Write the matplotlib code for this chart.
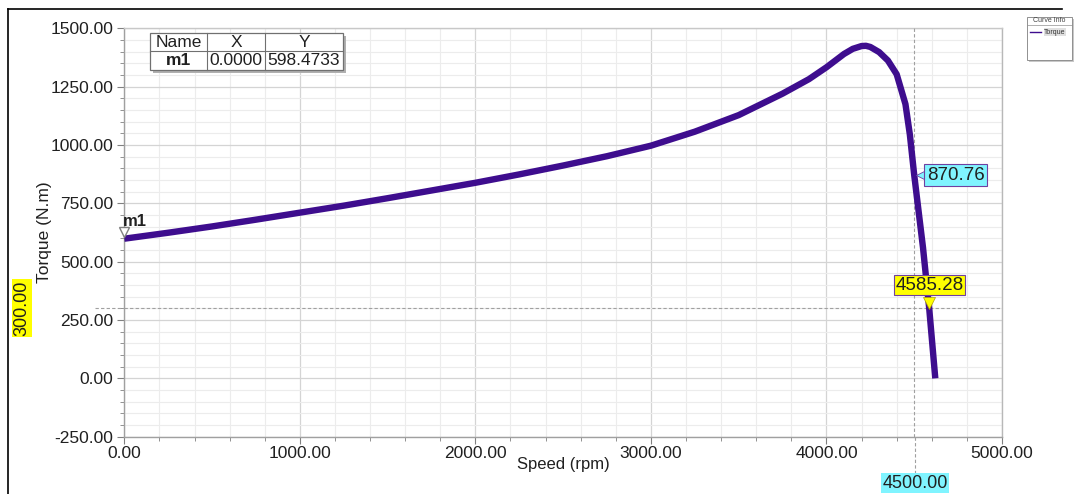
import matplotlib
matplotlib.use("Agg")
import matplotlib.pyplot as plt
from matplotlib.patches import Rectangle
from matplotlib.lines import Line2D
import numpy as np

plt.rcParams['font.family'] = ['Liberation Sans', 'DejaVu Sans']

# Torque curve
speed = [0, 250, 500, 750, 1000, 1250, 1500, 1750, 2000, 2250, 2500, 2750,
         3000, 3250, 3500, 3750, 3900, 4000, 4100, 4150, 4200, 4225, 4250,
         4300, 4350, 4400, 4450, 4475, 4500, 4550, 4585.28, 4620]
torque = [598.47, 624, 651, 680, 710, 740, 772, 805, 838, 874, 912, 952,
          997, 1057, 1128, 1220, 1282, 1333, 1390, 1412, 1424, 1425, 1420,
          1398, 1362, 1303, 1175, 1045, 870.76, 560, 300, 0]

xticks = [0, 1000, 2000, 3000, 4000, 5000]
yticks = [-250, 0, 250, 500, 750, 1000, 1250, 1500]

table_cols = ["Name", "X", "Y"]
table_row = ["m1", "0.0000", "598.4733"]

marker_speed = 4500.0
marker_torque = 870.76
cross_torque = 300.0
cross_speed = 4585.28

W, H = 1079, 494
fig = plt.figure(figsize=(W / 100, H / 100), dpi=100)
fig.patch.set_facecolor('white')


def fx(px):
    return px / W


def fy(py):
    return 1 - py / H


ax = fig.add_axes([fx(124.3), fy(436.7), fx(1002) - fx(124.3), fy(28.3) - fy(436.7)])
ax.set_xlim(0, 5000)
ax.set_ylim(-250, 1500)

ax.set_xticks(xticks)
ax.set_xticks(np.arange(0, 5001, 200), minor=True)
ax.set_yticks(yticks)
ax.set_yticks(np.arange(-250, 1501, 50), minor=True)
ax.set_xticklabels([f"{v:.2f}" for v in xticks])
ax.set_yticklabels([f"{v:.2f}" for v in yticks])

ax.grid(which='major', color='#d4d4d4', lw=0.9)
ax.grid(which='minor', color='#ececec', lw=0.8)
ax.set_axisbelow(True)

for s in ax.spines.values():
    s.set_color('#a0a0a0')
    s.set_linewidth(1.0)
ax.spines['top'].set_color('#c8c8c8')
ax.spines['right'].set_color('#b8b8b8')

ax.tick_params(which='major', length=5, color='#808080', labelsize=12.5,
               labelcolor='#202020', pad=2)
ax.tick_params(which='minor', length=3, color='#808080')
ax.tick_params(axis='y', pad=3)

ax.set_xlabel("Speed (rpm)", fontsize=12, labelpad=-3, color='#202020')
ax.set_ylabel("Torque (N.m)", fontsize=12.5, labelpad=-1, color='#202020')

# curve
ax.plot(speed, torque, color='#3e0d8e', lw=4.6, solid_capstyle='butt',
        solid_joinstyle='round', zorder=5)

# dashed marker lines
ax.axvline(marker_speed, color='#a0a0a0', lw=0.8, ls=(0, (3, 2)), zorder=3)
ax.axhline(cross_torque, color='#a0a0a0', lw=0.8, ls=(0, (3, 2)), zorder=3)
fig.add_artist(Line2D([fx(915), fx(915)], [fy(437), fy(476)], color='#a0a0a0',
                      lw=0.8, ls=(0, (3, 2))))
fig.add_artist(Line2D([fx(95), fx(124)], [fy(308.3), fy(308.3)], color='#a0a0a0',
                      lw=0.8, ls=(0, (3, 2))))

# m1 marker
ax.plot([0], [torque[0] + 28], marker='v', ms=7, mfc='white', mec='#808080',
        clip_on=False, zorder=6)
ax.text(-10, torque[0] + 42, "m1", fontsize=12, fontweight='bold', color='#202020',
        ha='left', va='bottom', clip_on=False)

# cyan callout at 4500
ax.plot([marker_speed + 45], [marker_torque], marker='<', ms=9, mfc='#80f4ff',
        mec='#7040a0', mew=0.6, zorder=7)
ax.annotate(f"{marker_torque:.2f}", xy=(marker_speed, marker_torque),
            xytext=(9, 0), textcoords='offset points', fontsize=13.5,
            ha='left', va='center', color='#202020', zorder=8,
            bbox=dict(boxstyle='square,pad=0.12', fc='#80f4ff', ec='#7040a0', lw=0.8))

# yellow callout at 300
ax.annotate(f"{cross_speed:.2f}", xy=(cross_speed, cross_torque),
            xytext=(0, 16.5), textcoords='offset points', fontsize=13.5,
            ha='center', va='center', color='#202020', zorder=8,
            bbox=dict(boxstyle='square,pad=0.08', fc='#ffff00', ec='#7040a0', lw=0.8))
ax.plot([cross_speed], [cross_torque + 22], marker='v', ms=9, mfc='#ffff00',
        mec='#b0a000', mew=0.5, zorder=9)

# axis value labels
fig.text(fx(915), fy(483), f"{marker_speed:.2f}", fontsize=13, ha='center',
         va='center', color='#202020',
         bbox=dict(boxstyle='square,pad=0.1', fc='#80f4ff', ec='none'))
fig.text(fx(22), fy(308), f"{cross_torque:.2f}", fontsize=13, ha='center',
         va='center', rotation=90, color='#202020',
         bbox=dict(boxstyle='square,pad=0.1', fc='#ffff00', ec='none'))

# marker table
tx = [150, 207, 265, 343]
ty = [33, 51, 70]
fig.add_artist(Rectangle((fx(tx[0] + 3), fy(ty[2] + 3)), fx(tx[3] - tx[0]),
                         fy(ty[0]) - fy(ty[2]), fc='#b0b0b0', ec='none', zorder=9))
fig.add_artist(Rectangle((fx(tx[0]), fy(ty[2])), fx(tx[3] - tx[0]),
                         fy(ty[0]) - fy(ty[2]), fc='white', ec='#707070', lw=0.9, zorder=10))
fig.add_artist(Line2D([fx(tx[0]), fx(tx[3])], [fy(ty[1]), fy(ty[1])], color='#707070',
                      lw=0.8, zorder=11))
for xc in tx[1:3]:
    fig.add_artist(Line2D([fx(xc), fx(xc)], [fy(ty[0]), fy(ty[2])], color='#707070',
                          lw=0.8, zorder=11))
for i in range(3):
    cx = (tx[i] + tx[i + 1]) / 2
    fig.text(fx(cx), fy(ty[0] + 9.5), table_cols[i], fontsize=12.5, ha='center',
             va='center', color='#202020', zorder=12)
    fig.text(fx(cx), fy(ty[1] + 9.5), table_row[i], fontsize=12.5, ha='center',
             va='center', color='#202020', zorder=12,
             fontweight='bold' if i == 0 else 'normal')

# curve info legend
lx0, lx1, ly0, ly1 = 1027, 1072, 17, 60
fig.add_artist(Rectangle((fx(lx0 + 2), fy(ly1 + 2)), fx(lx1 - lx0), fy(ly0) - fy(ly1),
                         fc='#c8c8c8', ec='none'))
fig.add_artist(Rectangle((fx(lx0), fy(ly1)), fx(lx1 - lx0), fy(ly0) - fy(ly1),
                         fc='white', ec='#909090', lw=0.7))
fig.add_artist(Line2D([fx(lx0), fx(lx1)], [fy(ly0 + 8), fy(ly0 + 8)], color='#909090', lw=0.5))
fig.text(fx((lx0 + lx1) / 2), fy(ly0 + 4), "Curve Info", fontsize=5, ha='center',
         va='center', color='#404040')
fig.add_artist(Line2D([fx(lx0 + 3), fx(lx0 + 14)], [fy(ly0 + 15), fy(ly0 + 15)],
                      color='#3e0d8e', lw=1.0))
fig.text(fx(lx0 + 17), fy(ly0 + 15), "Torque", fontsize=5, ha='left', va='center',
         color='#303030', bbox=dict(boxstyle='square,pad=0.05', fc='#e0e0e0', ec='none'))

# outer frame
fig.add_artist(Line2D([fx(8), fx(8)], [fy(9), 0], color='black', lw=1.2))
fig.add_artist(Line2D([fx(8), fx(1062)], [fy(9), fy(9)], color='black', lw=1.2))

fig.savefig("out.png", dpi=100)
